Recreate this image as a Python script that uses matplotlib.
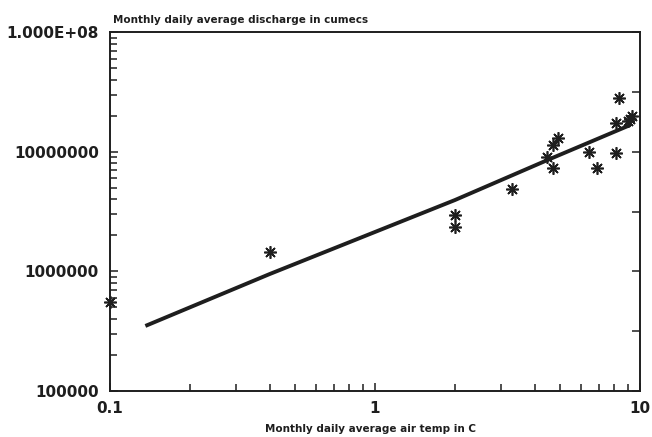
import matplotlib
matplotlib.use("AGG")

import matplotlib.pyplot as plt
import matplotlib.ticker as mticker

# ── Data ────────────────────────────────────────────────────────────────────
air_temp = [0.1, 0.4, 2.0, 2.0, 3.3, 4.45, 4.7, 4.7, 4.9,
            6.4, 6.9, 8.1, 8.15, 8.3, 9.0, 9.2, 9.3]
discharge = [5.5e5, 1.45e6, 2.97e6, 2.37e6, 4.9e6, 9.1e6, 7.3e6, 1.14e7, 1.3e7,
             1.0e7, 7.3e6, 9.7e6, 1.73e7, 2.85e7, 1.8e7, 1.9e7, 2.0e7]

fit_temp = [0.136, 0.4, 2.0, 4.45, 9.2]
fit_discharge = [3.5e5, 9.5e5, 3.95e6, 8.5e6, 1.68e7]

y_ticks = [1e5, 1e6, 1e7, 1e8]
y_tick_labels = ["100000", "1000000", "10000000", "1.000E+08"]
x_ticks = [0.1, 1, 10]
x_tick_labels = ["0.1", "1", "10"]
right_ticks = [1e5, 10**5.5, 1e6, 10**6.5, 1e7, 10**7.5, 1e8]

TITLE = "Monthly daily average discharge in cumecs"
XLABEL = "Monthly daily average air temp in C"

INK = "#1e1e1e"

fig = plt.figure(figsize=(6.52, 4.37), dpi=100, facecolor="white")
ax = fig.add_axes([0.1687, 0.1053, 0.8129, 0.8207])

ax.plot(fit_temp, fit_discharge, color=INK, linewidth=2.8, solid_capstyle="butt", zorder=2)
ax.plot(air_temp, discharge, linestyle="none", marker=(8, 2, 0), markersize=9,
        markeredgewidth=1.2, color=INK, clip_on=False, zorder=3)

ax.set_xscale("log")
ax.set_yscale("log")
ax.set_xlim(0.1, 10)
ax.set_ylim(1e5, 1e8)

ax.set_yticks(y_ticks)
ax.yaxis.set_major_formatter(mticker.FixedFormatter(y_tick_labels))
ax.set_xticks(x_ticks)
ax.xaxis.set_major_formatter(mticker.FixedFormatter(x_tick_labels))
ax.yaxis.set_minor_formatter(mticker.NullFormatter())
ax.xaxis.set_minor_formatter(mticker.NullFormatter())

ax.tick_params(which="both", direction="in", color=INK, top=False, right=False)
ax.tick_params(which="major", length=6, width=1.1)
ax.tick_params(which="minor", length=5, width=1.1)
ax.tick_params(axis="y", which="major", labelsize=11, pad=8)
ax.tick_params(axis="x", which="major", labelsize=11, pad=7)
for lab in ax.get_xticklabels() + ax.get_yticklabels():
    lab.set_fontweight("bold")
    lab.set_color(INK)

for side in ["left", "right", "top", "bottom"]:
    ax.spines[side].set_color(INK)
    ax.spines[side].set_linewidth(1.4)

# half-decade ticks on the right spine
rax = ax.twinx()
rax.set_yscale("log")
rax.set_ylim(1e5, 1e8)
rax.set_yticks(right_ticks)
rax.yaxis.set_minor_locator(mticker.NullLocator())
rax.yaxis.set_major_formatter(mticker.NullFormatter())
rax.tick_params(which="major", direction="in", length=6, width=1.1, color=INK)
for side in ["left", "right", "top", "bottom"]:
    rax.spines[side].set_visible(False)

fig.text(0.174, 0.943, TITLE, fontsize=7.5, fontweight="bold", color=INK,
         ha="left", va="bottom")
fig.text(0.568, 0.008, XLABEL, fontsize=7.5, fontweight="bold", color=INK,
         ha="center", va="bottom")

fig.savefig("out.png", dpi=100, facecolor="white")
